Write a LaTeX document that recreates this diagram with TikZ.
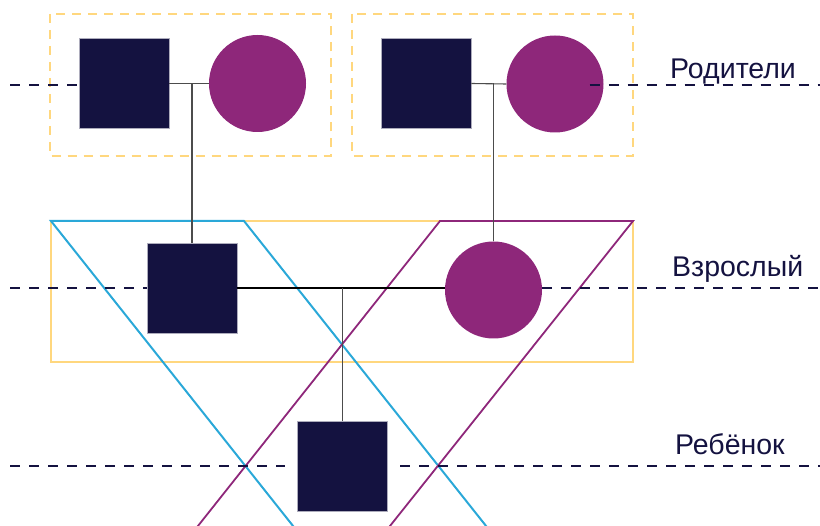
\documentclass[tikz,border=0pt]{standalone}
\usepackage{fontspec}
\setmainfont{Liberation Sans}
\usepackage{tikz}

\definecolor{navy}{HTML}{141240}
\definecolor{plum}{HTML}{8E277A}
\definecolor{sand}{HTML}{FFD77E}
\definecolor{sky}{HTML}{2AA8D8}

\tikzset{
	male/.style={draw=navy!35, line width=0.6pt, fill=navy, minimum size=90pt, inner sep=0pt},
	female/.style={circle, fill=plum, minimum size=97pt, inner sep=0pt},
	genline/.style={navy, line width=2pt, dash pattern=on 10pt off 9pt},
	tie/.style={black!70, line width=1.1pt},
	levelname/.style={navy, font=\fontsize{28.5}{30}\selectfont, inner sep=0pt, anchor=base west}
}

\begin{document}
\begin{tikzpicture}[x=1pt,y=-1pt]
	\useasboundingbox (0,0) rectangle (820,526);
	\clip (0,0) rectangle (820,526);

	% family frames
	\draw[sand, line width=2pt, dash pattern=on 9pt off 7pt] (49.5,14) rectangle (331,156);
	\draw[sand, line width=2pt, dash pattern=on 9pt off 7pt] (352,14) rectangle (633,156);
	\draw[sand, line width=2pt] (51,221) rectangle (633,362);

	% inheritance lines
	\draw[sky, line width=2pt, line join=miter] (301,536) -- (51,221) -- (244,221) -- (494,536);
	\draw[plum, line width=1.8pt, line join=miter] (190,536) -- (440,221) -- (633,221) -- (382,536);

	\node[male] (father1) at (124,83.5) {};
	\node[female] (mother1) at (257.5,83.5) {};
	\node[male] (father2) at (426,83.5) {};
	\node[female] (mother2) at (555,84) {};
	\node[male] (adult) at (192,288) {};
	\node[female] (wife) at (493.5,290) {};
	\node[male] (child) at (342.5,466.5) {};

	% generation levels
	\draw[genline] (10,85.5) -- (father1.west |- 0,85.5);
	\draw[genline] ([xshift=-14pt]mother2.east |- 0,85.5) -- (820,85.5);
	\draw[genline] (10,288) -- (adult.west |- 0,288);
	\draw[genline] (wife.east |- 0,288) -- (820,288);
	\draw[genline] (10,466) -- (285,466);
	\draw[genline] (400,466) -- (820,466);

	% couples and descent
	\draw[tie] (father1.east) -- (mother1.west);
	\draw[tie] (adult.north) -- (adult.north |- father1.east);
	\draw[tie] (father2.east) -- (mother2.west);
	\draw[tie] (wife.north) -- (wife.north |- father2.east);
	\draw[black, line width=1.6pt] (adult.east) -- (wife.west |- adult.east);
	\draw[tie] (child.north) -- (child.north |- adult.east);

	\node[levelname] (parents) at (670,79) {Родители};
	\node[levelname] (grown) at (672,277) {Взрослый};
	\node[levelname] (kid) at (675,455) {Ребёнок};
\end{tikzpicture}
\end{document}
